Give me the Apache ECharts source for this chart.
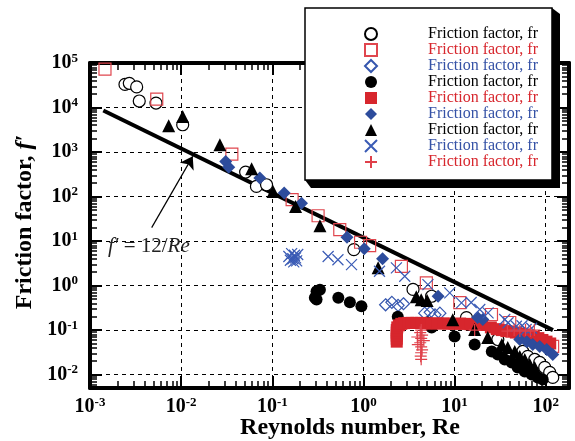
<!DOCTYPE html>
<html>
<head>
<meta charset="utf-8">
<style>
  html, body { margin: 0; padding: 0; background: #fff; }
  #chart { width: 575px; height: 441px; }
</style>
<script src="https://cdn.jsdelivr.net/npm/echarts@6/dist/echarts.min.js"></script>
</head>
<body>
<div id="chart"></div>
<script>
// ---- data: [Re, f'] ----
const openCircle = [
  [0.00242, 33000], [0.0027, 35000], [0.00325, 29000], [0.00347, 14000], [0.0053, 12600],
  [0.0104, 4100], [0.051, 355], [0.067, 169], [0.0865, 184], [0.785, 6.4],
  [3.5, 0.82], [5.6, 0.575], [13.5, 0.19], [29.8, 0.0615], [56, 0.0331], [63.5, 0.0256],
  [75.7, 0.0219], [85.9, 0.0188], [97.5, 0.0145], [110.6, 0.0112], [119.4, 0.00865]
];
const redHollowSquare = [
  [0.00146, 73000], [0.0054, 15500], [0.036, 900], [0.165, 85], [0.318, 37], [0.55, 18],
  [0.93, 9.4], [1.17, 7.9], [2.61, 2.71], [4.9, 1.15], [11.4, 0.416], [25.4, 0.224],
  [40.3, 0.148], [119, 0.043]
];
const blueHollowDiamond = [
  [1.75, 0.37], [2.05, 0.42], [2.4, 0.36], [2.75, 0.39],
  [4.7, 0.24], [5.4, 0.25], [6.1, 0.22], [6.9, 0.24]
];
const blackCircle = [
  [0.306, 0.744], [0.333, 0.81], [0.293, 0.53], [0.306, 0.485], [0.53, 0.53], [0.71, 0.42],
  [0.95, 0.344], [2.38, 0.2], [5.0, 0.148], [5.6, 0.114], [10, 0.072], [16.6, 0.0475],
  [25.6, 0.0331], [29.8, 0.0284], [35.5, 0.0219], [42.4, 0.0188], [49.3, 0.0145],
  [58.9, 0.0118], [70.2, 0.0101], [81.7, 0.00865], [92.7, 0.0078]
];
const redSquare = [
  [2.32, 0.055], [2.32, 0.064], [2.32, 0.075], [2.32, 0.088], [2.32, 0.1], [2.35, 0.115],
  [2.45, 0.128], [2.6, 0.138], [2.8, 0.143], [3.1, 0.145], [3.4, 0.145], [3.8, 0.145],
  [4.3, 0.145], [4.9, 0.142], [5.6, 0.14], [6.5, 0.142], [7.5, 0.14], [8.6, 0.14],
  [10, 0.138], [11.5, 0.14], [13, 0.138], [15, 0.135], [17.5, 0.135], [20, 0.13],
  [25, 0.115], [29, 0.105], [33, 0.1], [37, 0.095], [42, 0.092], [47, 0.088], [53, 0.084],
  [59, 0.08], [66, 0.075], [74, 0.07], [83, 0.066], [92, 0.06], [102, 0.055], [112, 0.05]
];
const blueDiamond = [
  [0.0308, 612], [0.0333, 457], [0.073, 260], [0.135, 120], [0.209, 71], [0.66, 12.1],
  [1.02, 6.7], [1.62, 4.0], [6.6, 0.575], [17.9, 0.192], [20.4, 0.173], [51.9, 0.0615],
  [62, 0.055], [72, 0.0475], [85.9, 0.0429], [102.6, 0.0367], [119.4, 0.0284]
];
const blackTriangle = [
  [0.0073, 3900], [0.0104, 6300], [0.0266, 1450], [0.0593, 420], [0.102, 130], [0.18, 60],
  [0.333, 22], [1.45, 2.5], [3.8, 0.56], [4.3, 0.48], [5.0, 0.46], [9.55, 0.17],
  [16.6, 0.103], [23.1, 0.068], [33, 0.0475], [38.3, 0.0407], [45.7, 0.0331],
  [51.9, 0.0256], [58.9, 0.0219], [66.8, 0.0169], [75.7, 0.0145]
];
const blueCross = [
  [0.152, 4.5], [0.158, 3.7], [0.163, 5.2], [0.168, 4.0], [0.172, 3.4], [0.175, 4.8],
  [0.18, 4.2], [0.185, 3.6], [0.19, 5.0], [0.41, 4.5], [0.525, 3.8], [0.74, 2.96],
  [1.5, 2.1], [2.3, 2.5], [2.84, 1.62], [5.1, 1.05], [8.85, 0.686], [11.9, 0.41],
  [15.2, 0.416], [18.9, 0.29], [23.3, 0.244], [35.5, 0.173], [38.6, 0.146], [47.6, 0.122],
  [55, 0.125], [61, 0.103], [70, 0.11]
];
const redPlus = [
  [4.3, 0.1], [4.2, 0.088], [4.4, 0.077], [3.9, 0.07], [4.3, 0.065], [4.6, 0.058],
  [4.2, 0.052], [3.95, 0.047], [4.3, 0.042], [4.4, 0.036], [4.3, 0.031], [4.25, 0.026],
  [4.3, 0.022], [16.6, 0.1], [38, 0.095], [45, 0.1], [52, 0.095], [60, 0.1], [68, 0.095], [75, 0.1]
];
// f' = 12/Re, end points
const theoryRe = [0.0014, 120];
const theoryF = [8570, 0.1];
// arrow of the annotation
const arrowFrom = [0.00475, 20];
const arrowTo = [0.0134, 800];

// axes
const xLabels = [1e-3, 1e-2, 1e-1, 1, 10, 100];
const yLabels = [1e-2, 1e-1, 1, 10, 100, 1e3, 1e4, 1e5];
const xMajor = [1e-2, 1e-1, 1, 10, 100];
const yMajor = [1e-2, 1e-1, 1, 10, 100, 1e3, 1e4];
const legendText = 'Friction factor, fr';

const SERIF = '"Liberation Serif", "Times New Roman", serif';
const RED = '#d7262d';
const BLUE = '#2d4c9c';

// minor ticks 2..9 x 10^e
function minorTicks(e0, e1) {
  const out = [];
  for (let e = e0; e <= e1; e++) {
    for (let k = 2; k <= 9; k++) out.push(k * Math.pow(10, e));
  }
  return out;
}
const xMinor = minorTicks(-3, 2);
const yMinor = minorTicks(-3, 4);

const xRange = { min: 1e-3, max: 180 };
const yRange = { min: 0.005, max: 1e5 };

function axis(range, position, ticks, major) {
  return {
    type: 'log', position: position, min: range.min, max: range.max,
    axisLine: { show: major, onZero: false, lineStyle: { color: '#000', width: 4 } },
    axisTick: {
      show: true, inside: true, length: major ? 12 : 7, customValues: ticks,
      lineStyle: { color: '#000', width: major ? 2 : 1.5 }
    },
    axisLabel: { show: false },
    splitLine: { show: false },
    minorTick: { show: false },
    axisPointer: { show: false }
  };
}

const labelRich = {
  b: { fontFamily: SERIF, fontWeight: 'bold', fontSize: 20, lineHeight: 22, color: '#000' },
  s: { fontFamily: SERIF, fontWeight: 'bold', fontSize: 13, lineHeight: 13, verticalAlign: 'top', color: '#000' }
};
const powerLabel = v => '{b|10}{s|' + Math.round(Math.log10(v)) + '}';
const gridDash = { show: true, lineStyle: { color: '#000', width: 1, type: [4, 4] } };

let bottom = axis(xRange, 'bottom', xMajor, true);
bottom.axisLabel = { show: true, customValues: xLabels, margin: 8, formatter: powerLabel, rich: labelRich };
bottom.splitLine = gridDash;
let left = axis(yRange, 'left', yMajor, true);
left.axisLabel = { show: true, customValues: yLabels, margin: 12, formatter: powerLabel, rich: labelRich };
left.splitLine = gridDash;

function scatter(name, data, symbol, size, itemStyle) {
  itemStyle.opacity = 1;
  return {
    name: name, type: 'scatter', data: data, symbol: symbol, symbolSize: size,
    itemStyle: itemStyle, emphasis: { disabled: true }, z: 3
  };
}

const CROSS = 'path://M0,0L10,10M10,0L0,10';
const PLUS = 'path://M5,0L5,10M0,5L10,5';

const seriesList = [
  scatter('s1', openCircle, 'circle', 12, { color: '#fff', borderColor: '#000', borderWidth: 1.2 }),
  scatter('s2', redHollowSquare, 'rect', 12, { color: 'rgba(255,255,255,0)', borderColor: '#e0464e', borderWidth: 1.2 }),
  scatter('s3', blueHollowDiamond, 'diamond', 12, { color: 'rgba(255,255,255,0)', borderColor: '#3556ae', borderWidth: 1.2 }),
  scatter('s4', blackCircle, 'circle', 12, { color: '#000' }),
  scatter('s5', redSquare, 'rect', 12, { color: RED }),
  scatter('s6', blueDiamond, 'diamond', 13, { color: BLUE }),
  scatter('s7', blackTriangle, 'triangle', 13, { color: '#000' }),
  scatter('s8', blueCross, CROSS, 11, { color: 'rgba(255,255,255,0)', borderColor: '#3a5bb5', borderWidth: 1.2 }),
  scatter('s9', redPlus, PLUS, 12, { color: 'rgba(255,255,255,0)', borderColor: '#e0404a', borderWidth: 1.2 })
];
const legendColors = ['#000', RED, '#3552a6', '#000', RED, '#3552a6', '#000', '#3552a6', RED];

const chart = echarts.init(document.getElementById('chart'), null, { renderer: 'canvas' });
chart.setOption({
  animation: false,
  backgroundColor: '#fff',
  grid: { left: 90, right: 6, top: 63, bottom: 53, containLabel: false },
  xAxis: [
    bottom,
    axis(xRange, 'bottom', xMinor, false),
    axis(xRange, 'top', xMajor, true),
    axis(xRange, 'top', xMinor, false)
  ],
  yAxis: [
    left,
    axis(yRange, 'left', yMinor, false),
    axis(yRange, 'right', yMajor, true),
    axis(yRange, 'right', yMinor, false)
  ],
  legend: {
    left: 305, top: 8, orient: 'vertical',
    data: seriesList.map((s, i) => ({ name: s.name, textStyle: { color: legendColors[i] } })),
    formatter: () => legendText,
    itemWidth: 12, itemHeight: 12, itemGap: 0,
    padding: [18, 14, 10, 59],
    textStyle: { fontFamily: SERIF, fontSize: 16, color: '#000', padding: [0, 0, 0, 46] },
    backgroundColor: '#fff', borderColor: '#000', borderWidth: 1.5,
    selectedMode: false, z: 10
  },
  series: [
    {
      type: 'line', data: [[theoryRe[0], theoryF[0]], [theoryRe[1], theoryF[1]]],
      symbol: 'none', lineStyle: { color: '#000', width: 4 }, z: 2, silent: true,
      markLine: {
        silent: true, symbol: ['none', 'arrow'], symbolSize: 12, animation: false,
        lineStyle: { color: '#000', width: 1.2, type: 'solid' }, label: { show: false },
        data: [[{ coord: arrowFrom }, { coord: arrowTo }]]
      }
    }
  ].concat(seriesList),
  graphic: [
    {
      // drop shadow of the legend box
      type: 'polygon', z: 5, silent: true,
      shape: { points: [[552, 8], [560, 14], [560, 188], [311, 188], [305, 180]] },
      style: { fill: '#000' }
    },
    {
      type: 'text', x: 108, y: 246, z: 20,
      style: {
        text: '{i|f\u2032} = 12/{i|Re}', verticalAlign: 'middle',
        fontFamily: SERIF, fontSize: 21, fill: '#222',
        rich: { i: { fontFamily: SERIF, fontSize: 21, fontStyle: 'italic', fill: '#222' } }
      }
    },
    {
      type: 'text', x: 25, y: 222, rotation: Math.PI / 2, z: 20,
      style: {
        text: 'Friction factor, {i|f\u2032}', align: 'center', verticalAlign: 'middle',
        fontFamily: SERIF, fontSize: 24, fontWeight: 'bold', fill: '#000',
        rich: { i: { fontFamily: SERIF, fontSize: 24, fontWeight: 'bold', fontStyle: 'italic', fill: '#000' } }
      }
    },
    {
      type: 'text', x: 350, y: 428, z: 20,
      style: {
        text: 'Reynolds number, Re', align: 'center', verticalAlign: 'middle',
        fontFamily: SERIF, fontSize: 24, fontWeight: 'bold', fill: '#000'
      }
    }
  ]
});
</script>
</body>
</html>
